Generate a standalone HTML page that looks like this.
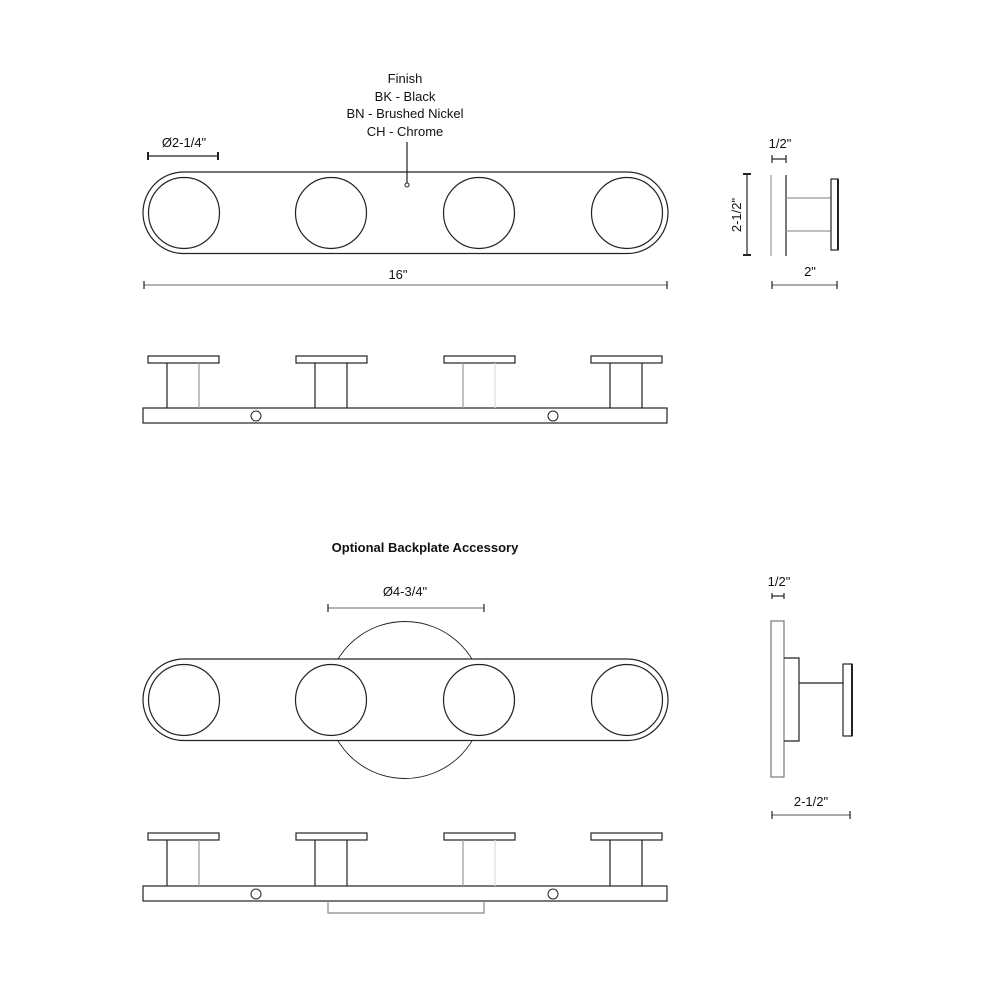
<!DOCTYPE html>
<html><head><style>body{margin:0;background:#fff}svg{display:block}text{font-family:"Liberation Sans",Arial,sans-serif;fill:#111}</style></head><body>
<svg width="1000" height="1000" viewBox="0 0 1000 1000" xmlns="http://www.w3.org/2000/svg">
<g fill="none" stroke="#222" stroke-width="1.2">
<rect x="143" y="172" width="525" height="81.5" rx="40.7"/>
<circle cx="184" cy="213" r="35.5"/><circle cx="331" cy="213" r="35.5"/><circle cx="479" cy="213" r="35.5"/><circle cx="627" cy="213" r="35.5"/>
<line x1="407" y1="142" x2="407" y2="183"/><circle cx="407" cy="185" r="2" stroke-width="1"/>
<line x1="148" y1="156" x2="218" y2="156"/><line x1="148" y1="152" x2="148" y2="160" stroke-width="2"/><line x1="218" y1="152" x2="218" y2="160" stroke-width="2"/>
<line x1="144" y1="285" x2="667" y2="285" stroke="#888"/><line x1="144" y1="281" x2="144" y2="289"/><line x1="667" y1="281" x2="667" y2="289"/>
<rect x="143" y="408" width="524" height="15"/>
<circle cx="256" cy="416" r="5" stroke-width="1"/><circle cx="553" cy="416" r="5" stroke-width="1"/>
<rect x="148" y="356" width="71" height="7"/><line x1="167" y1="363" x2="167" y2="408"/><line x1="199" y1="363" x2="199" y2="408" stroke="#999"/>
<rect x="296" y="356" width="71" height="7"/><line x1="315" y1="363" x2="315" y2="408"/><line x1="347" y1="363" x2="347" y2="408"/>
<rect x="444" y="356" width="71" height="7"/><line x1="463" y1="363" x2="463" y2="408" stroke="#999"/><line x1="495" y1="363" x2="495" y2="408" stroke="#ddd"/>
<rect x="591" y="356" width="71" height="7"/><line x1="610" y1="363" x2="610" y2="408"/><line x1="642" y1="363" x2="642" y2="408"/>
<line x1="771" y1="175" x2="771" y2="256" stroke="#999"/><line x1="786" y1="175" x2="786" y2="256"/>
<line x1="786" y1="198" x2="831" y2="198" stroke="#999"/><line x1="786" y1="231" x2="831" y2="231" stroke="#999"/>
<rect x="831" y="179" width="7" height="71"/><line x1="838" y1="179" x2="838" y2="250" stroke-width="2"/>
<line x1="772" y1="159" x2="786" y2="159"/><line x1="772" y1="155" x2="772" y2="163"/><line x1="786" y1="155" x2="786" y2="163"/>
<line x1="747" y1="174" x2="747" y2="255"/><line x1="743" y1="174" x2="751" y2="174" stroke-width="2"/><line x1="743" y1="255" x2="751" y2="255" stroke-width="2"/>
<line x1="772" y1="285" x2="837" y2="285" stroke="#777"/><line x1="772" y1="281" x2="772" y2="289"/><line x1="837" y1="281" x2="837" y2="289"/>
<circle cx="405" cy="700" r="78.5" stroke-width="0.9"/>
<rect x="143" y="659" width="525" height="81.5" rx="40.7" fill="#fff"/>
<circle cx="184" cy="700" r="35.5"/><circle cx="331" cy="700" r="35.5"/><circle cx="479" cy="700" r="35.5"/><circle cx="627" cy="700" r="35.5"/>
<line x1="328" y1="608" x2="484" y2="608" stroke="#888"/><line x1="328" y1="604" x2="328" y2="612"/><line x1="484" y1="604" x2="484" y2="612"/>
<rect x="143" y="886" width="524" height="15"/>
<polyline points="328,901 328,913 484,913 484,901" stroke="#888"/>
<circle cx="256" cy="894" r="5" stroke-width="1"/><circle cx="553" cy="894" r="5" stroke-width="1"/>
<rect x="148" y="833" width="71" height="7"/><line x1="167" y1="840" x2="167" y2="886"/><line x1="199" y1="840" x2="199" y2="886" stroke="#999"/>
<rect x="296" y="833" width="71" height="7"/><line x1="315" y1="840" x2="315" y2="886"/><line x1="347" y1="840" x2="347" y2="886"/>
<rect x="444" y="833" width="71" height="7"/><line x1="463" y1="840" x2="463" y2="886" stroke="#999"/><line x1="495" y1="840" x2="495" y2="886" stroke="#ddd"/>
<rect x="591" y="833" width="71" height="7"/><line x1="610" y1="840" x2="610" y2="886"/><line x1="642" y1="840" x2="642" y2="886"/>
<rect x="771" y="621" width="13" height="156" stroke="#777"/>
<polyline points="784,658 799,658 799,741 784,741"/>
<line x1="799" y1="683" x2="843" y2="683"/>
<rect x="843" y="664" width="9" height="72"/><line x1="852" y1="664" x2="852" y2="736" stroke-width="2"/>
<line x1="772" y1="596" x2="784" y2="596"/><line x1="772" y1="593" x2="772" y2="599"/><line x1="784" y1="593" x2="784" y2="599"/>
<line x1="772" y1="815" x2="850" y2="815" stroke="#777"/><line x1="772" y1="811" x2="772" y2="819"/><line x1="850" y1="811" x2="850" y2="819"/>
</g>
<g font-size="13" text-anchor="middle">
<text x="405" y="83">Finish</text>
<text x="405" y="101">BK - Black</text>
<text x="405" y="118">BN - Brushed Nickel</text>
<text x="405" y="136">CH - Chrome</text>
<text x="184" y="147">Ø2-1/4"</text>
<text x="398" y="279">16"</text>
<text x="780" y="148">1/2"</text>
<text x="810" y="276">2"</text>
<text transform="translate(741,215) rotate(-90)">2-1/2"</text>
<text x="425" y="552" font-weight="bold">Optional Backplate Accessory</text>
<text x="405" y="596">Ø4-3/4"</text>
<text x="779" y="586">1/2"</text>
<text x="811" y="806">2-1/2"</text>
</g>
</svg>
</body></html>
